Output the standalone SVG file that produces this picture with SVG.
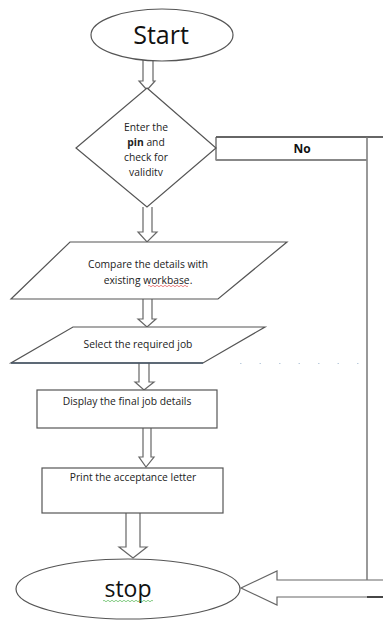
<svg xmlns="http://www.w3.org/2000/svg" width="383" height="620" viewBox="0 0 383 620">
<style>
.shape{fill:#fff;stroke:#555;stroke-width:1.2}
.arr{fill:#fff;stroke:#666;stroke-width:1.2;stroke-linejoin:miter}
.t{font-family:"Open Sans","Liberation Sans",sans-serif;font-size:10.3px;fill:#222;text-anchor:middle}
.big{font-family:"Open Sans","Liberation Sans",sans-serif;fill:#111;text-anchor:middle}
.ln{fill:none;stroke:#777;stroke-width:1.5}
</style>
<rect width="383" height="620" fill="#fff"/>
<g id="connectors">
<path class="arr" d="M143,60 V81 H139 L147,90 L155,81 H153 V60"/>
<path class="arr" d="M143,207 V232 H138 L147,242 L157,232 H152 V207"/>
<path class="arr" d="M143,299 V319 H138 L147,327 L156,319 H152 V299"/>
<path class="arr" d="M139,363 V382 H135 L144,390 L154,382 H149 V363"/>
<path class="arr" d="M143,428 V457 H139 L146,467 L154,457 H151 V428"/>
<path class="arr" d="M126,513 V547 H119 L133,558 L147,547 H140 V513"/>
<path class="arr" d="M383,580 H277 V571 L241,588 L277,605 V597 H383"/>
<path d="M216,137 H383" fill="none" stroke="#333" stroke-width="1.3"/>
<path class="ln" d="M367,137 V580"/>
<path d="M367,597 H383" fill="none" stroke="#222" stroke-width="1.5"/>
<path d="M240,363.5 H360" fill="none" stroke="#bcd" stroke-width="1" stroke-dasharray="1.5 18"/>
</g>
<g id="start">
<ellipse class="shape" cx="162" cy="35" rx="71" ry="26"/>
<text class="big" x="161" y="44" font-size="25">Start</text>
</g>
<g id="decision">
<polygon class="shape" points="147,88 216,148 147,207 76,148"/>
<text class="t" x="146" y="131">Enter the</text>
<text class="t" x="146" y="146"><tspan font-weight="bold">pin</tspan> and</text>
<text class="t" x="146" y="161">check for</text>
<text class="t" x="146" y="176">validitv</text>
</g>
<g id="no">
<path d="M216,137 V160 H367" fill="none" stroke="#555" stroke-width="1.2"/>
<path d="M216,160 H367" fill="none" stroke="#888" stroke-width="1.8"/>
<text class="big" x="302" y="153" font-size="12" font-weight="bold">No</text>
</g>
<g id="compare">
<polygon class="shape" points="70,242 287,242 218,299 11,299"/>
<text class="t" x="148" y="268">Compare the details with</text>
<text class="t" x="148" y="284">existing workbase.</text>
<path d="M148,286 q1,-1.5 2,0 t2,0 t2,0 t2,0 t2,0 t2,0 t2,0 t2,0 t2,0 t2,0 t2,0 t2,0 t2,0 t2,0 t2,0 t2,0 t2,0 t2,0 t2,0 t2,0" fill="none" stroke="#d33" stroke-width="0.6"/>
</g>
<g id="select">
<polygon class="shape" points="73,327 265,327 203,363 11,363"/>
<path d="M11,363 H203" fill="none" stroke="#456" stroke-width="1.3"/>
<text class="t" x="138" y="348">Select the required job</text>
</g>
<g id="display">
<rect class="shape" x="37" y="390" width="180" height="38"/>
<text class="t" x="127" y="405">Display the final job details</text>
</g>
<g id="print">
<rect class="shape" x="42" y="468" width="181" height="45"/>
<text class="t" x="133" y="481">Print the acceptance letter</text>
</g>
<g id="stop">
<ellipse class="shape" cx="128" cy="589" rx="112" ry="30"/>
<text class="big" x="128" y="597" font-size="23">stop</text>
<path d="M103,601 q1,-1.5 2,0 t2,0 t2,0 t2,0 t2,0 t2,0 t2,0 t2,0 t2,0 t2,0 t2,0 t2,0 t2,0 t2,0 t2,0 t2,0 t2,0 t2,0 t2,0 t2,0 t2,0 t2,0 t2,0 t2,0 t2,0" fill="none" stroke="#3a3" stroke-width="0.6"/>
</g>
</svg>
